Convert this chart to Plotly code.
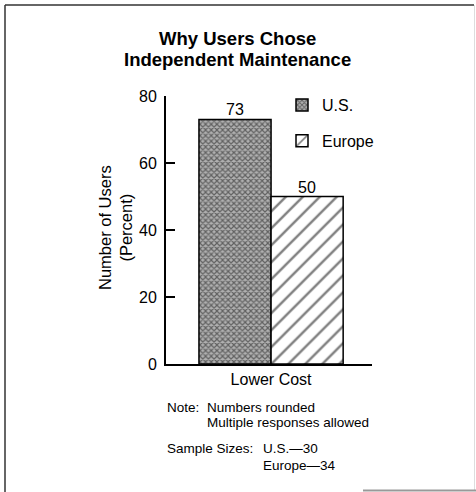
import plotly.graph_objects as go

# ---- data ----
categories = ["Lower Cost"]
us_values = [73]
europe_values = [50]
series_names = ["U.S.", "Europe"]
y_ticks = [0, 20, 40, 60, 80]
title_lines = ["Why Users Chose", "Independent Maintenance"]
y_title = "Number of Users<br>(Percent)"

W, H = 476, 492
L, R, T, B = 166, 372, 96, 364  # plot area in pixels

def px(x):
    return (x - L) / (R - L)

def py(y):
    return (B - y) / (B - T)

FONT = "Liberation Sans, Arial, Helvetica, sans-serif"

fig = go.Figure()
fig.add_trace(go.Bar(
    x=categories, y=us_values, name=series_names[0],
    marker=dict(color="#9a9a9a", line=dict(color="black", width=1.5),
                pattern=dict(shape="x", size=4, solidity=0.5,
                             fgcolor="#111", bgcolor="#b0b0b0", fillmode="overlay")),
    legendgroup="a",
))
fig.add_trace(go.Bar(
    x=categories, y=europe_values, name=series_names[1],
    marker=dict(color="white", line=dict(color="black", width=1.5),
                pattern=dict(shape="/", size=12, solidity=0.2,
                             fgcolor="black", bgcolor="white", fillmode="overlay")),
    legendgroup="b",
))

annotations = []
# Bar value labels (from data)
for vals, shift in ((us_values, -36), (europe_values, 36)):
    for c, v in zip(categories, vals):
        annotations.append(dict(text=str(v), x=c, y=v, xref="x", yref="y", showarrow=False,
                                xanchor="center", yanchor="bottom", xshift=shift, yshift=-1,
                                font=dict(size=16, color="black", family=FONT)))
# Title lines
annotations.append(dict(text="<b>%s</b>" % title_lines[0], x=px(237), y=py(38.5),
                        xref="paper", yref="paper", showarrow=False,
                        xanchor="center", yanchor="middle",
                        font=dict(size=18.5, color="black", family=FONT)))
annotations.append(dict(text="<b>%s</b>" % title_lines[1], x=px(237), y=py(59),
                        xref="paper", yref="paper", showarrow=False,
                        xanchor="center", yanchor="middle",
                        font=dict(size=18.5, color="black", family=FONT)))
# Y axis title
annotations.append(dict(text=y_title, x=px(115), y=py(228), textangle=-90,
                        xref="paper", yref="paper", showarrow=False,
                        xanchor="center", yanchor="middle",
                        font=dict(size=16.5, color="black", family=FONT)))
# Notes
notes = [
    ("Note:", 165, 407),
    ("Numbers rounded", 205, 407),
    ("Multiple responses allowed", 205, 422),
    ("Sample Sizes:", 165, 448),
    ("U.S.\u201430", 261, 448),
    ("Europe\u201434", 261, 465),
]
for txt, xx, yy in notes:
    annotations.append(dict(text=txt, x=px(xx), y=py(yy), xref="paper", yref="paper",
                            showarrow=False, xanchor="left", yanchor="middle",
                            font=dict(size=13.5, color="black", family=FONT)))

shapes = [
    dict(type="line", xref="paper", yref="paper", x0=px(5), x1=px(5), y0=py(5), y1=py(492),
         line=dict(color="#333", width=1.5)),
    dict(type="line", xref="paper", yref="paper", x0=px(5), x1=px(474), y0=py(5), y1=py(5),
         line=dict(color="#333", width=1.5)),
    dict(type="line", xref="paper", yref="paper", x0=px(474.5), x1=px(474.5), y0=py(5), y1=py(490),
         line=dict(color="#ddd", width=1)),
    dict(type="line", xref="paper", yref="paper", x0=px(363), x1=px(476), y0=py(490.5), y1=py(490.5),
         line=dict(color="#999", width=2)),
]

fig.update_layout(
    width=W, height=H,
    margin=dict(l=L, r=W - R, t=T, b=H - B, pad=0),
    paper_bgcolor="white", plot_bgcolor="white",
    barmode="group", bargap=0.30, bargroupgap=0,
    font=dict(family=FONT, color="black"),
    showlegend=True,
    legend=dict(x=px(282), y=py(88), xanchor="left", yanchor="top",
                font=dict(size=16, color="black", family=FONT),
                tracegroupgap=12, traceorder="grouped",
                bgcolor="rgba(0,0,0,0)", borderwidth=0, itemclick=False),
    annotations=annotations,
    shapes=shapes,
)
fig.update_yaxes(range=[0, 80], tickvals=y_ticks, showline=True, linewidth=2, linecolor="black",
                 ticks="inside", ticklen=9, tickwidth=2, tickcolor="black",
                 tickfont=dict(size=16, color="black", family=FONT),
                 showgrid=False, zeroline=False, ticklabelstandoff=4)
fig.update_xaxes(showline=True, linewidth=2, linecolor="black", ticks="",
                 range=[-0.51, 0.49],
                 tickfont=dict(size=16, color="black", family=FONT),
                 showgrid=False, zeroline=False)

fig.write_html("out.html")
